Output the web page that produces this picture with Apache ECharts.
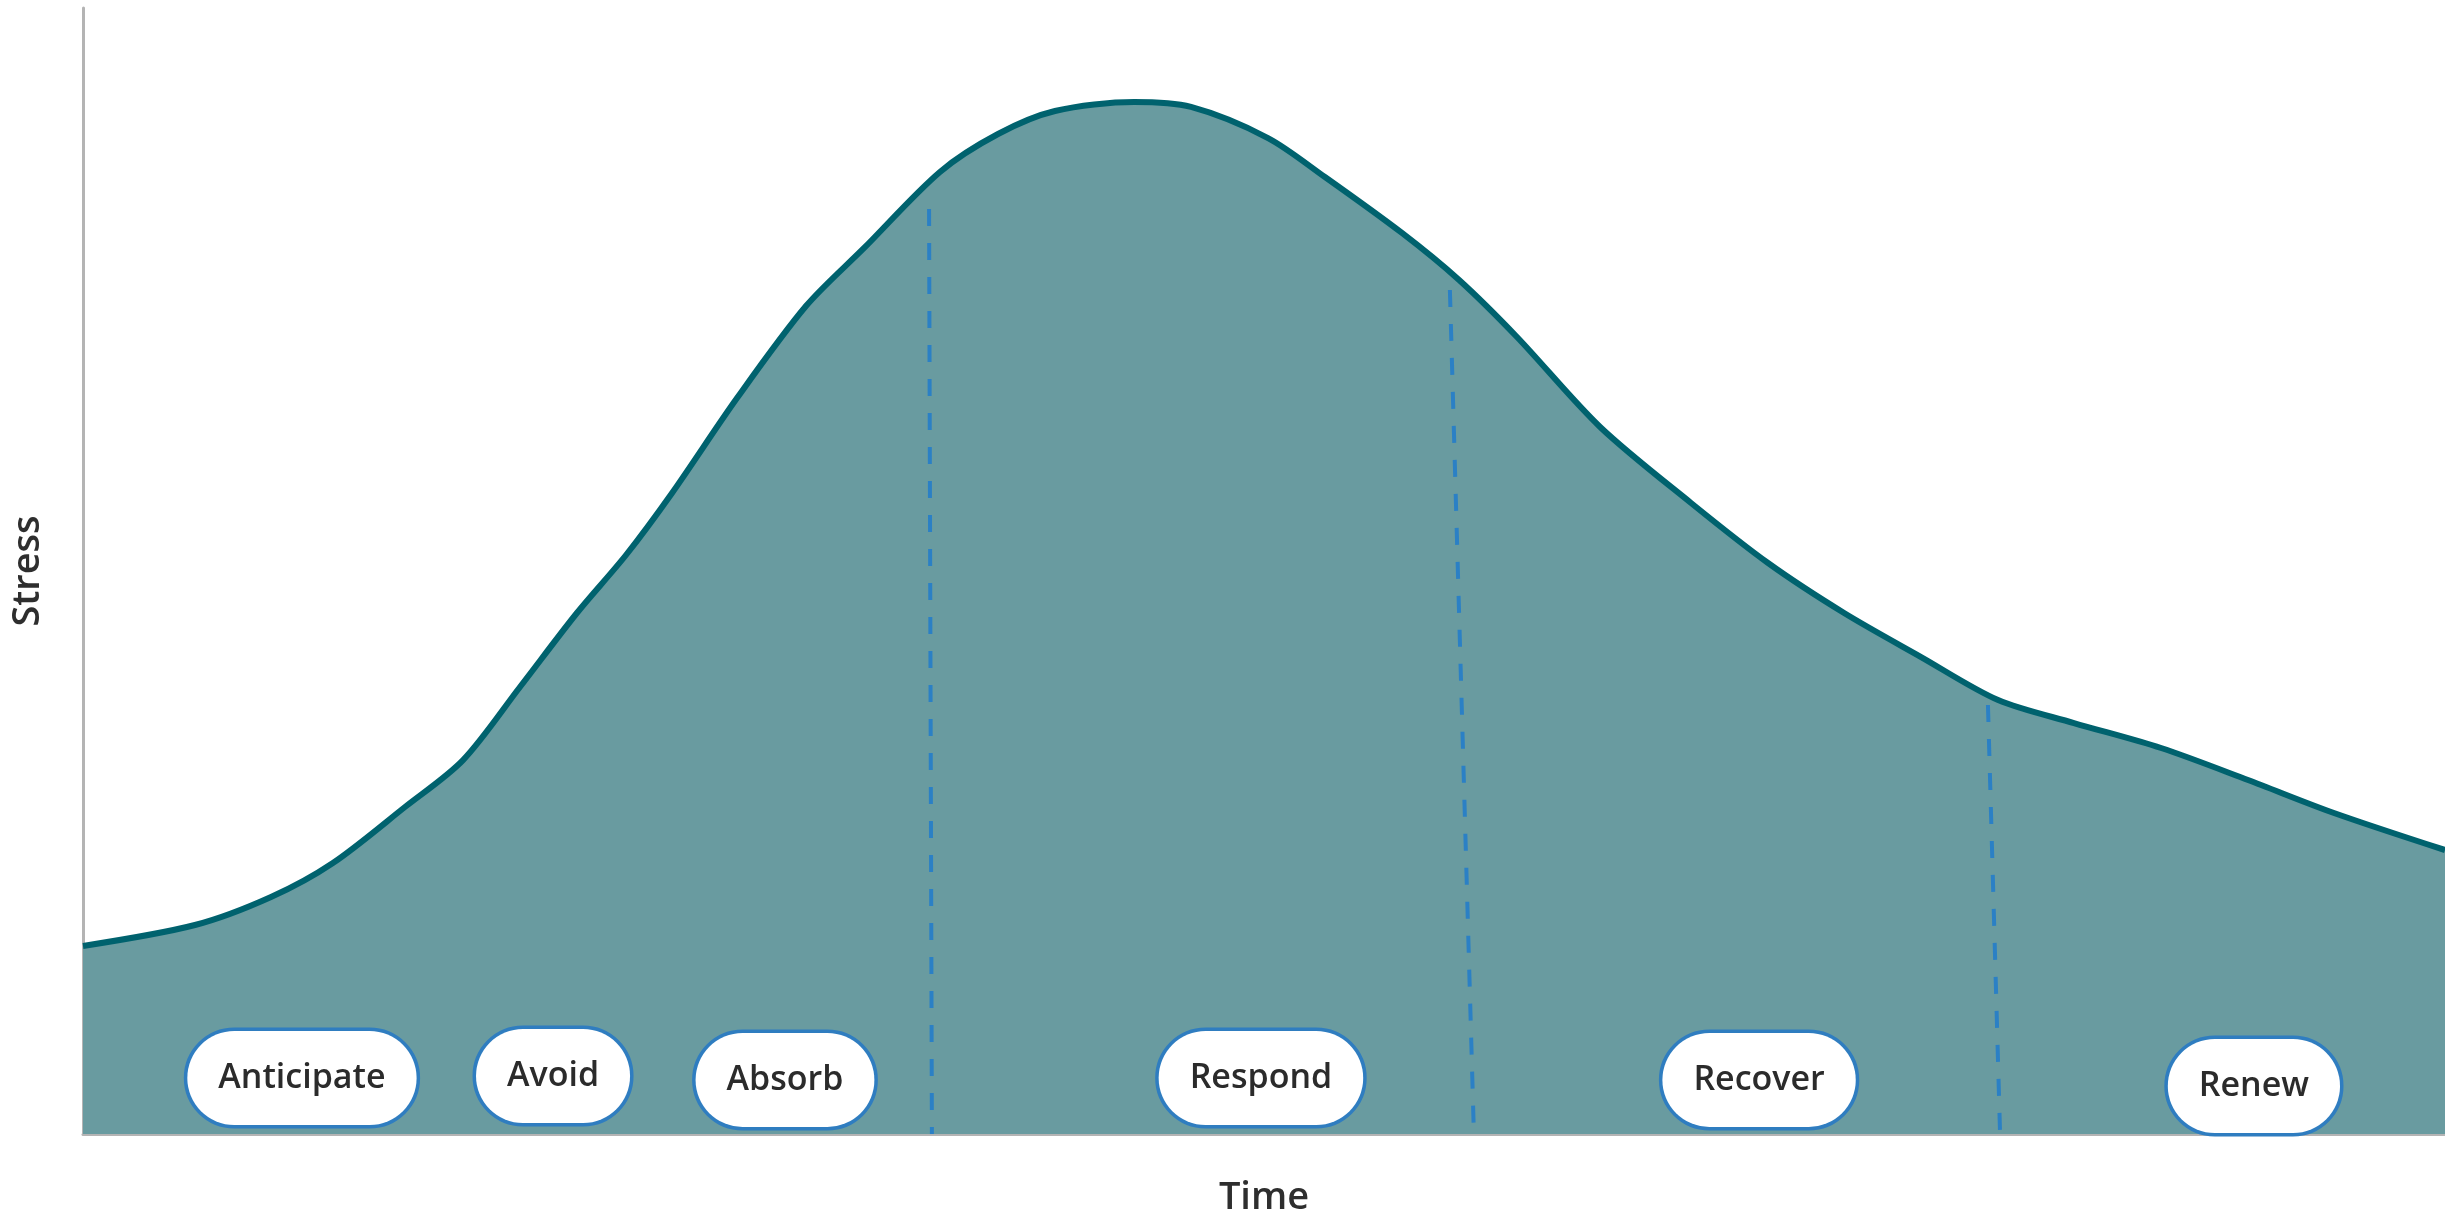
<!DOCTYPE html>
<html>
<head>
<meta charset="utf-8">
<script src="https://cdn.jsdelivr.net/npm/echarts@6/dist/echarts.min.js"></script>
<style>
  html, body { margin: 0; padding: 0; background: #ffffff; }
  #chart { width: 2445px; height: 1217px; }
</style>
</head>
<body>
<div id="chart"></div>
<script>
// Stress curve over time (x: 0-100 time, y: 0-100 stress)
const timeValues   = [0, 4.74, 7.96, 10.58, 13.63, 16.09, 18.5, 20.91, 22.99, 24.94, 27.69, 30.61, 33.07, 36.28, 38.74, 41.15, 44.5, 46.91, 50.17, 52.58, 55.84, 58.26, 60.71, 64.23, 68.08, 71.34, 74.56, 77.82, 81.08, 84.29, 87.98, 91.66, 95.3, 100];
const stressValues = [16.7, 18.56, 21.05, 24.07, 29.04, 33.21, 39.7, 46.27, 51.42, 56.93, 65.36, 73.53, 78.69, 85.44, 88.81, 90.85, 91.65, 91.21, 88.45, 84.99, 80.02, 75.84, 70.78, 62.79, 56.04, 50.71, 46.27, 42.36, 38.54, 36.5, 34.28, 31.44, 28.51, 25.22];

// Phase boundaries (dashed lines): [time, stress] at top and bottom
const boundaryTopTime    = [35.82, 57.87, 80.65];
const boundaryTopStress  = [82.15, 74.96, 38.1];
const boundaryBottomTime = [35.94, 58.89, 81.16];
const boundaryBottomStress = [0, -0.27, 0.27];

// Phase labels
const phaseNames  = ['Anticipate', 'Avoid', 'Absorb', 'Respond', 'Recover', 'Renew'];
const phaseTimes  = [9.27, 19.9, 29.72, 49.87, 70.96, 91.91];
const phaseLevels = [4.97, 5.15, 4.8, 4.97, 4.8, 4.26];

const axisName = { x: 'Time', y: 'Stress' };

const FONT = '"Open Sans", "Noto Sans", sans-serif';

const chart = echarts.init(document.getElementById('chart'), null, { renderer: 'canvas' });

const curveData = timeValues.map((t, i) => [t, stressValues[i]]);

const boundarySeries = boundaryTopTime.map((t, i) => ({
  type: 'line',
  data: [[t, boundaryTopStress[i]], [boundaryBottomTime[i], boundaryBottomStress[i]]],
  symbol: 'none',
  clip: false,
  silent: true,
  z: 3,
  lineStyle: { color: '#2b80c5', width: 4, type: [17, 17] }
}));

const option = {
  animation: false,
  backgroundColor: '#ffffff',
  grid: { left: 83, right: 0, top: 8, bottom: 83, containLabel: false, outerBoundsMode: 'none' },
  xAxis: {
    type: 'value', min: 0, max: 100,
    name: axisName.x, nameLocation: 'middle', nameGap: 45,
    nameTextStyle: { fontFamily: FONT, fontSize: 38, fontWeight: 600, color: '#2e2e2e' },
    axisLine: { show: true, lineStyle: { color: '#b4b4b4', width: 3 } },
    axisTick: { show: false }, axisLabel: { show: false }, splitLine: { show: false }
  },
  yAxis: {
    type: 'value', min: 0, max: 100,
    name: axisName.y, nameLocation: 'middle', nameGap: 36, nameRotate: 90,
    nameTextStyle: { fontFamily: FONT, fontSize: 38, fontWeight: 600, color: '#2e2e2e' },
    axisLine: { show: true, lineStyle: { color: '#b4b4b4', width: 3 } },
    axisTick: { show: false }, axisLabel: { show: false }, splitLine: { show: false }
  },
  series: [
    {
      type: 'line',
      data: curveData,
      smooth: 0.3,
      symbol: 'none',
      z: 2,
      lineStyle: { color: '#00626e', width: 6 },
      areaStyle: { color: '#699ba0', opacity: 1 }
    },
    ...boundarySeries,
    {
      type: 'scatter',
      data: phaseNames.map((n, i) => ({ name: n, value: [phaseTimes[i], phaseLevels[i]] })),
      symbolSize: 0,
      z: 5,
      silent: true,
      itemStyle: { opacity: 1 },
      label: {
        show: true,
        position: 'inside',
        formatter: '{b}',
        fontFamily: FONT,
        fontSize: 34,
        fontWeight: 600,
        color: '#2b2b2b',
        lineHeight: 38,
        backgroundColor: '#ffffff',
        borderColor: '#2f7dc0',
        borderWidth: 3.5,
        borderRadius: 48,
        padding: [28, 31]
      },
      emphasis: { disabled: true }
    }
  ]
};

chart.setOption(option);
</script>
</body>
</html>
